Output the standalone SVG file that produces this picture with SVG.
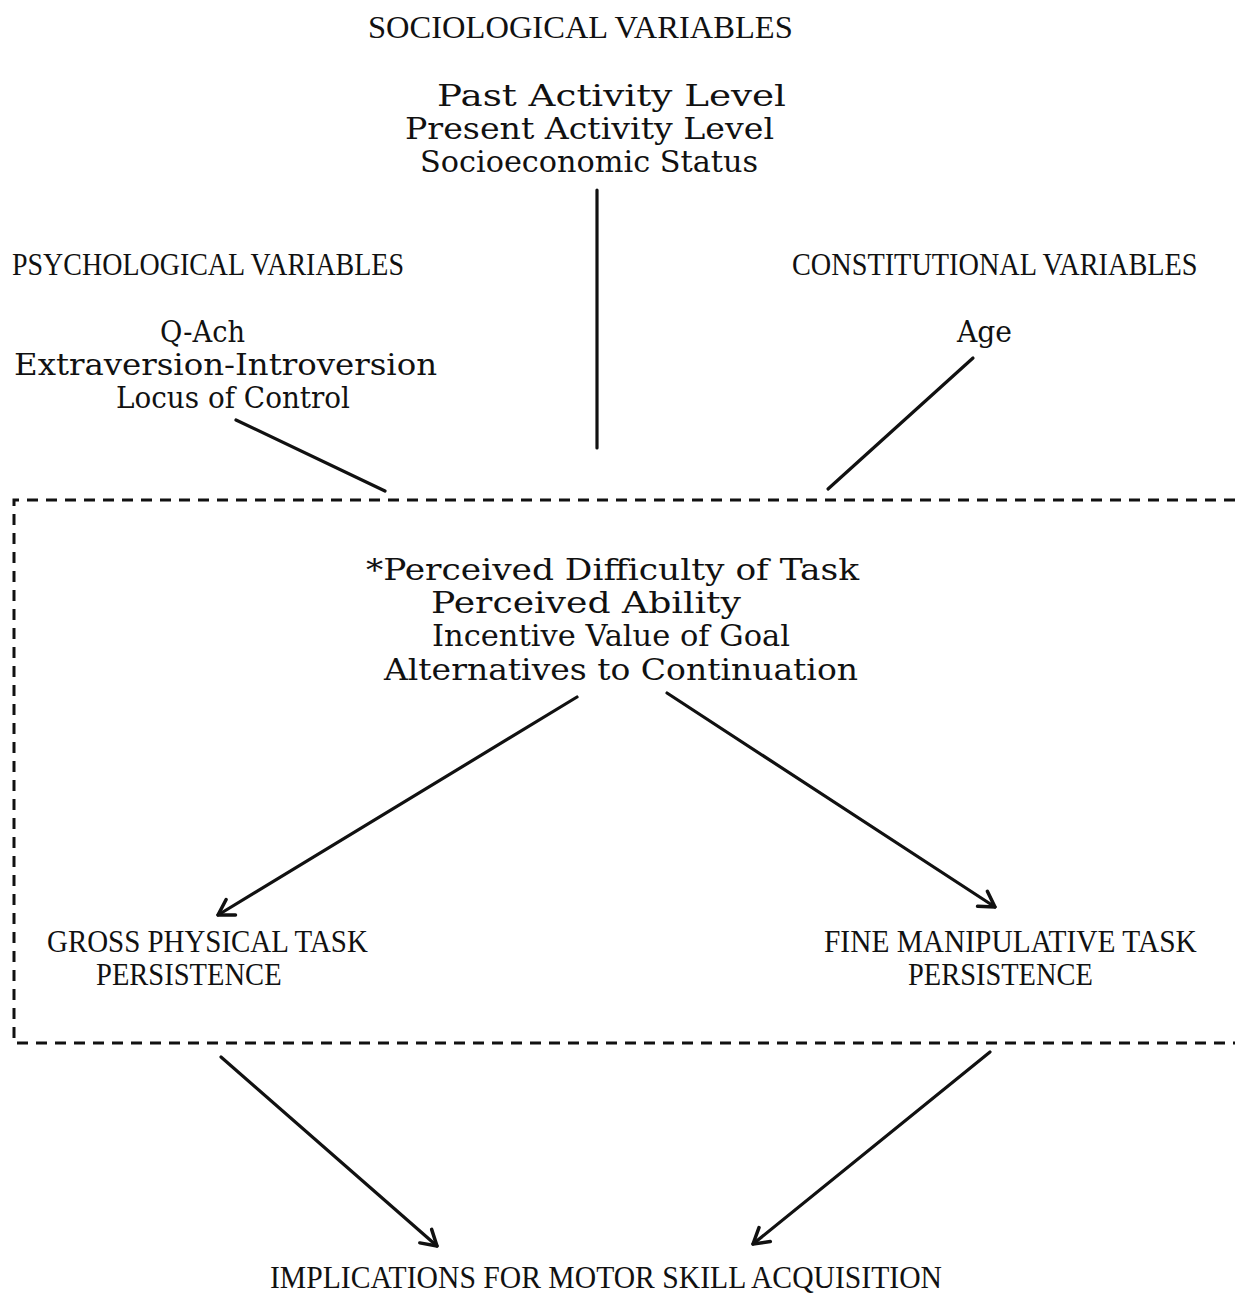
<svg xmlns="http://www.w3.org/2000/svg" width="1235" height="1296" viewBox="0 0 1235 1296">
<style>
text { font-family: "Liberation Serif", "DejaVu Serif", serif; fill: #111; }
.lc { font-family: "DejaVu Serif", "Liberation Serif", serif; font-size: 30px; }
.uc { font-size: 32px; }
.ln { stroke: #111; stroke-width: 3.2; fill: none; stroke-linecap: round; }
.box { stroke: #111; stroke-width: 3; fill: none; }
</style>
<defs>
<marker id="arr" markerUnits="userSpaceOnUse" markerWidth="40" markerHeight="40" refX="0" refY="0" viewBox="-20 -20 40 40" orient="auto">
<path d="M -15 -9 L 0 0 L -15 9" fill="none" stroke="#111" stroke-width="3.5" stroke-linecap="round" stroke-linejoin="round"/>
</marker>
</defs>
<rect width="1235" height="1296" fill="#fff"/>

<g id="sociological">
<text class="uc" transform="translate(368,38) scale(0.8,1)" x="0" y="0" textLength="531" lengthAdjust="spacingAndGlyphs">SOCIOLOGICAL VARIABLES</text>
<text class="lc" x="437" y="106" textLength="349" lengthAdjust="spacingAndGlyphs">Past Activity Level</text>
<text class="lc" x="405" y="139" textLength="369" lengthAdjust="spacingAndGlyphs">Present Activity Level</text>
<text class="lc" x="420" y="172" textLength="338" lengthAdjust="spacingAndGlyphs">Socioeconomic Status</text>
</g>

<g id="psychological">
<text class="uc" transform="translate(12,275) scale(0.8,1)" x="0" y="0" textLength="490" lengthAdjust="spacingAndGlyphs">PSYCHOLOGICAL VARIABLES</text>
<text class="lc" x="160" y="342" textLength="85" lengthAdjust="spacingAndGlyphs">Q-Ach</text>
<text class="lc" x="14" y="375" textLength="423" lengthAdjust="spacingAndGlyphs">Extraversion-Introversion</text>
<text class="lc" x="116" y="408" textLength="234" lengthAdjust="spacingAndGlyphs">Locus of Control</text>
</g>

<g id="constitutional">
<text class="uc" transform="translate(792,275) scale(0.8,1)" x="0" y="0" textLength="507" lengthAdjust="spacingAndGlyphs">CONSTITUTIONAL VARIABLES</text>
<text class="lc" x="957" y="342" textLength="55" lengthAdjust="spacingAndGlyphs">Age</text>
</g>

<g id="mediators">
<path class="box" d="M 1235 500 L 14 500 L 14 1043 L 1235 1043" stroke-dasharray="11 8"/>
<text class="lc" x="366" y="580" textLength="493" lengthAdjust="spacingAndGlyphs">*Perceived Difficulty of Task</text>
<text class="lc" x="431" y="613" textLength="310" lengthAdjust="spacingAndGlyphs">Perceived Ability</text>
<text class="lc" x="432" y="646" textLength="358" lengthAdjust="spacingAndGlyphs">Incentive Value of Goal</text>
<text class="lc" x="384" y="680" textLength="474" lengthAdjust="spacingAndGlyphs">Alternatives to Continuation</text>
</g>

<g id="gross">
<text class="uc" transform="translate(47,952) scale(0.8,1)" x="0" y="0" textLength="401" lengthAdjust="spacingAndGlyphs">GROSS PHYSICAL TASK</text>
<text class="uc" transform="translate(96,985) scale(0.8,1)" x="0" y="0" textLength="232" lengthAdjust="spacingAndGlyphs">PERSISTENCE</text>
</g>

<g id="fine">
<text class="uc" transform="translate(824,952) scale(0.8,1)" x="0" y="0" textLength="466" lengthAdjust="spacingAndGlyphs">FINE MANIPULATIVE TASK</text>
<text class="uc" transform="translate(908,985) scale(0.8,1)" x="0" y="0" textLength="231" lengthAdjust="spacingAndGlyphs">PERSISTENCE</text>
</g>

<g id="implications">
<text class="uc" transform="translate(270,1288) scale(0.8,1)" x="0" y="0" textLength="840" lengthAdjust="spacingAndGlyphs">IMPLICATIONS FOR MOTOR SKILL ACQUISITION</text>
</g>

<g id="connectors">
<line class="ln" x1="597" y1="190" x2="597" y2="448"/>
<line class="ln" x1="236" y1="420" x2="385" y2="491"/>
<line class="ln" x1="973" y1="358" x2="828" y2="489"/>
<line class="ln" x1="577" y1="697" x2="218" y2="915" marker-end="url(#arr)"/>
<line class="ln" x1="667" y1="693" x2="995" y2="907" marker-end="url(#arr)"/>
<line class="ln" x1="221" y1="1057" x2="437" y2="1246" marker-end="url(#arr)"/>
<line class="ln" x1="990" y1="1052" x2="753" y2="1244" marker-end="url(#arr)"/>
</g>
</svg>
